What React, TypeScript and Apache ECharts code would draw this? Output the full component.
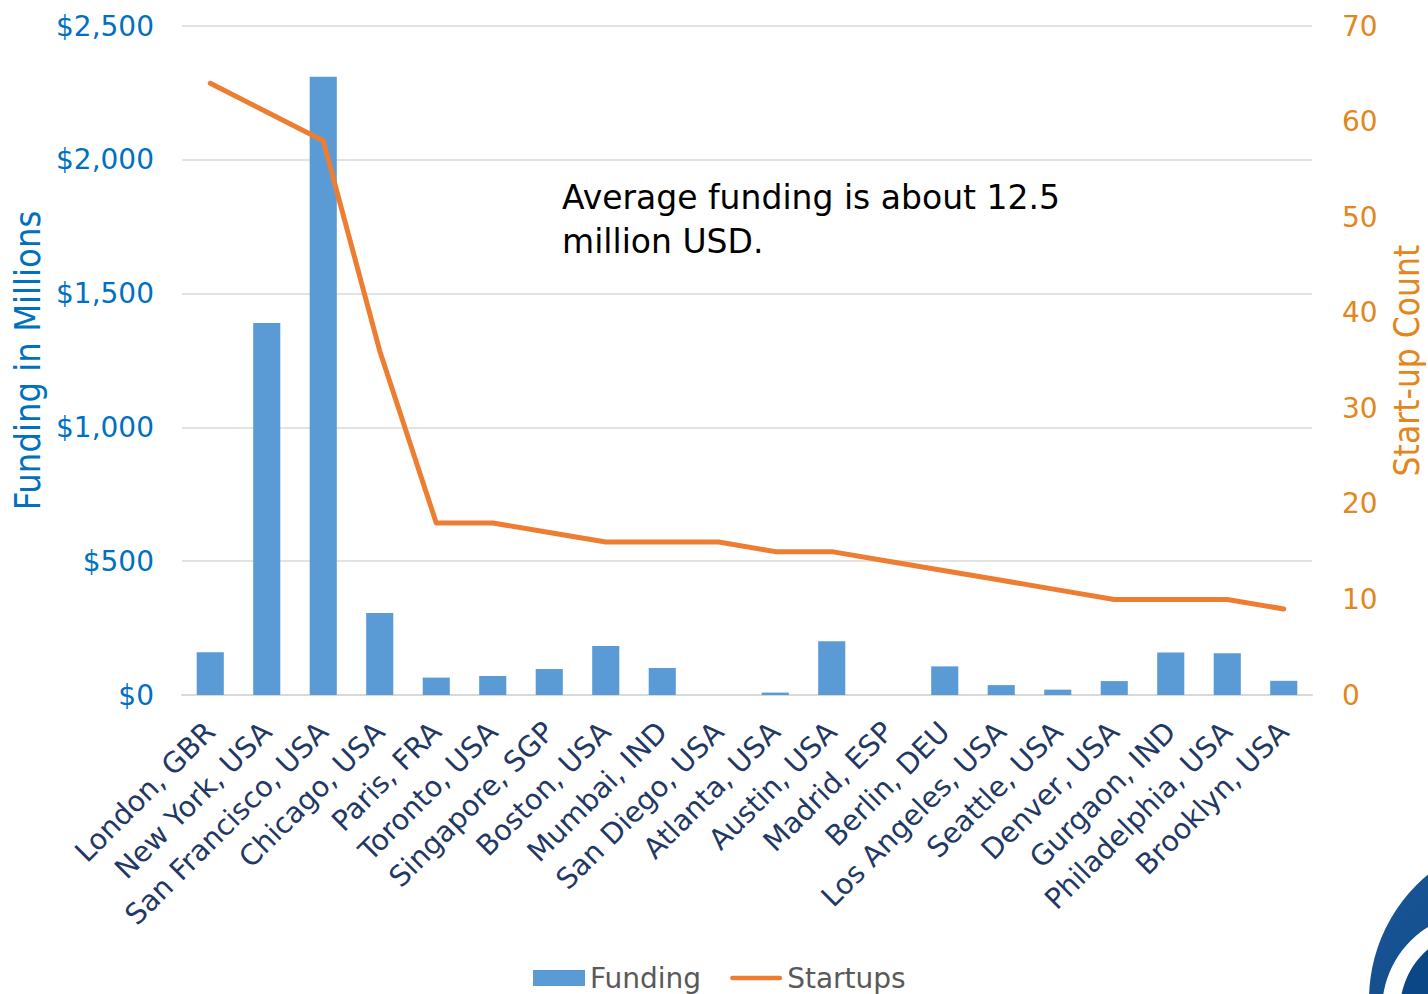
import React, { useEffect, useRef } from "react";
import * as echarts from "echarts";

const cities = [
  "London, GBR",
  "New York, USA",
  "San Francisco, USA",
  "Chicago, USA",
  "Paris, FRA",
  "Toronto, USA",
  "Singapore, SGP",
  "Boston, USA",
  "Mumbai, IND",
  "San Diego, USA",
  "Atlanta, USA",
  "Austin, USA",
  "Madrid, ESP",
  "Berlin, DEU",
  "Los Angeles, USA",
  "Seattle, USA",
  "Denver, USA",
  "Gurgaon, IND",
  "Philadelphia, USA",
  "Brooklyn, USA",
];

// Total funding per city, millions of USD
const funding = [160, 1390, 2310, 306, 65, 71, 97, 183, 101, 0, 9, 201, 0, 107, 37, 20, 52, 159, 156, 53];

// Number of start-ups per city
const startups = [64, 61, 58, 36, 18, 18, 17, 16, 16, 16, 15, 15, 14, 13, 12, 11, 10, 10, 10, 9];

const FONT = "'DejaVu Sans', Verdana, sans-serif";
const TITLE_FONT = "'DejaVu Sans Condensed', 'DejaVu Sans', sans-serif";

export default function App() {
  const ref = useRef<HTMLDivElement>(null);

  useEffect(() => {
    if (!ref.current) return;
    const chart = echarts.init(ref.current, null, { renderer: "svg" });
    const gridColor = "#D9D9D9";
    chart.setOption({
      animation: false,
      backgroundColor: "#FFFFFF",
      textStyle: { fontFamily: FONT },
      grid: {
        left: 182,
        right: 116,
        top: 26,
        bottom: 299,
        containLabel: false,
        outerBoundsMode: "none",
      },
      legend: {
        top: 959,
        left: 528,
        itemGap: 29,
        itemWidth: 52,
        itemHeight: 16,
        textStyle: { color: "#595959", fontSize: 28, fontFamily: FONT },
        data: [
          { name: "Funding", icon: "rect" },
          { name: "Startups", icon: "path://M2,0 L54,0 A2.5,2.5 0 0 1 54,5 L2,5 A2.5,2.5 0 0 1 2,0 Z" },
        ],
      },
      xAxis: {
        type: "category",
        data: cities,
        axisTick: { show: false },
        axisLine: { lineStyle: { color: gridColor, width: 2 } },
        axisLabel: {
          rotate: 45,
          interval: 0,
          margin: 32,
          color: "#1F3864",
          fontSize: 28.5,
          fontFamily: FONT,
        },
      },
      yAxis: [
        {
          type: "value",
          min: 0,
          max: 2500,
          interval: 500,
          name: "Funding in Millions",
          nameLocation: "middle",
          nameGap: 136,
          nameTextStyle: { color: "#0070C0", fontSize: 36, fontFamily: TITLE_FONT },
          axisLine: { show: false },
          axisTick: { show: false },
          splitLine: { lineStyle: { color: gridColor, width: 1.5 } },
          axisLabel: {
            color: "#0070C0",
            fontSize: 28,
            margin: 28,
            fontFamily: FONT,
            formatter: (v: number) => "$" + v.toLocaleString("en-US"),
          },
        },
        {
          type: "value",
          min: 0,
          max: 70,
          interval: 10,
          name: "Start-up Count",
          nameLocation: "middle",
          nameGap: 77,
          nameRotate: 90,
          nameTextStyle: { color: "#E3861C", fontSize: 35, fontFamily: TITLE_FONT },
          axisLine: { show: false },
          axisTick: { show: false },
          splitLine: { show: false },
          axisLabel: { color: "#E3861C", fontSize: 28, margin: 30, fontFamily: FONT },
        },
      ],
      series: [
        {
          name: "Funding",
          type: "bar",
          data: funding,
          barWidth: "48%",
          itemStyle: { color: "#5B9BD5" },
        },
        {
          name: "Startups",
          type: "line",
          yAxisIndex: 1,
          data: startups,
          symbol: "none",
          smooth: false,
          lineStyle: { color: "#ED7D31", width: 5, cap: "round", join: "round" },
          itemStyle: { color: "#ED7D31" },
        },
      ],
      graphic: [
        {
          type: "text",
          left: 562,
          top: 175,
          style: {
            text: "Average funding is about 12.5\nmillion USD.",
            fill: "#000000",
            fontSize: 33,
            lineHeight: 44,
            fontFamily: FONT,
          },
        },
        {
          type: "group",
          silent: true,
          children: [
            {
              type: "circle",
              shape: { cx: 1532, cy: 1000, r: 163 },
              style: {
                fill: new echarts.graphic.LinearGradient(0, 0, 1, 1, [
                  { offset: 0, color: "#1A5A9C" },
                  { offset: 1, color: "#062F66" },
                ]),
              },
            },
            {
              type: "circle",
              shape: { cx: 1480, cy: 1010, r: 98 },
              style: { fill: "#FFFFFF" },
            },
            {
              type: "circle",
              shape: { cx: 1480, cy: 1010, r: 80 },
              style: { fill: "#0B4687" },
            },
          ],
        },
      ],
    });
    return () => chart.dispose();
  }, []);

  return (
    <div
      ref={ref}
      style={{ position: "fixed", left: 0, top: 0, width: 1428, height: 994 }}
    />
  );
}
